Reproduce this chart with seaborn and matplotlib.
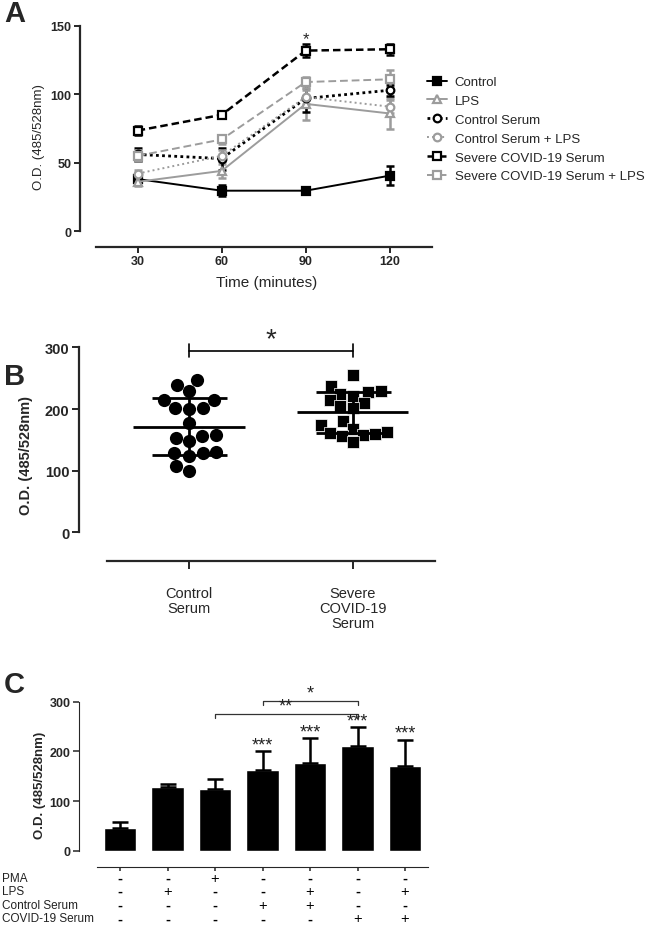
import numpy as np
import pandas as pd
import seaborn as sns
import matplotlib.pyplot as plt
from matplotlib.transforms import blended_transform_factory

# panel A: O.D. over time, mean and error per group
times = [30, 60, 90, 120]
groups_a = ["Control", "LPS", "Control Serum", "Control Serum + LPS",
            "Severe COVID-19 Serum", "Severe COVID-19 Serum + LPS"]
od_control = [38, 29.5, 29.5, 40.5]
od_lps = [36, 44, 93, 86]
od_ctrl_serum = [56, 53, 97, 103]
od_ctrl_serum_lps = [42, 55, 98, 91]
od_covid = [73.5, 85, 132, 133]
od_covid_lps = [55, 67, 109, 111]
err_control = [2, 4, 2, 7]
err_lps = [3, 5, 12, 11]
err_ctrl_serum = [5, 8, 10, 4]
err_ctrl_serum_lps = [3, 4, 5, 5]
err_covid = [3, 2, 5, 4]
err_covid_lps = [4, 3, 4, 7]

# panel B: individual O.D. values
control_serum_pts = [246.6, 239.5, 229, 215, 214, 202, 202, 199.4, 177.7, 158,
                     156, 153.9, 149, 131, 128.4, 128.4, 124.6, 107.3, 100.2]
covid_serum_pts = [255, 238, 230, 228, 225, 222, 215, 210, 205, 202,
                   180, 175, 168, 163, 162, 160, 158, 157, 147]
groups_b = ["Control\nSerum", "Severe\nCOVID-19\nSerum"]

# panel C: bars
conditions = ["None", "LPS", "PMA", "Control Serum", "Control Serum + LPS",
              "COVID-19 Serum", "COVID-19 Serum + LPS"]
bar_od = [45, 129, 124, 162, 177, 210, 171]
bar_err = [13, 6, 20, 38, 49, 39, 52]
bar_stars = ["", "", "", "***", "***", "***", "***"]
row_names = ["PMA", "LPS", "Control Serum", "COVID-19 Serum"]
row_pma = ["-", "-", "+", "-", "-", "-", "-"]
row_lps = ["-", "+", "-", "-", "+", "-", "+"]
row_ctrl = ["-", "-", "-", "+", "+", "-", "-"]
row_covid = ["-", "-", "-", "-", "-", "+", "+"]

sns.set_style("ticks")
plt.rcParams["font.family"] = ["Liberation Sans", "DejaVu Sans"]

fig = plt.figure(figsize=(6.45, 9.29), dpi=100)
W, H = 645, 929


def px_axes(left, top, right, bottom):
    return fig.add_axes([left / W, 1 - bottom / H, (right - left) / W, (bottom - top) / H])


grey = "#9c9c9c"
means_a = [od_control, od_lps, od_ctrl_serum, od_ctrl_serum_lps, od_covid, od_covid_lps]
errs_a = [err_control, err_lps, err_ctrl_serum, err_ctrl_serum_lps, err_covid, err_covid_lps]
look = [
    dict(color="black", marker="s", mfc="black", ls="-", lw=1.4),
    dict(color=grey, marker="^", mfc="white", ls="-", lw=1.4),
    dict(color="black", marker="o", mfc="white", ls=(0, (1, 1.2)), lw=2.0),
    dict(color=grey, marker="o", mfc="white", ls=(0, (1, 1.6)), lw=1.4),
    dict(color="black", marker="s", mfc="white", ls=(0, (3, 1.6)), lw=1.8),
    dict(color=grey, marker="s", mfc="white", ls=(0, (4, 2)), lw=1.4),
]

# ---------------- A
axA = px_axes(80, 27, 432, 248)
handles = []
for name, m, e, st in zip(groups_a, means_a, errs_a, look):
    axA.errorbar(times, m, yerr=e, fmt="none", ecolor=st["color"], elinewidth=1.8,
                 capsize=3, capthick=1.8, zorder=2)
    sns.lineplot(x=times, y=m, ax=axA, color=st["color"], marker=st["marker"],
                 markersize=5.5, markerfacecolor=st["mfc"], markeredgecolor=st["color"],
                 markeredgewidth=1.6, linestyle=st["ls"], linewidth=st["lw"], label=name,
                 zorder=3)
    handles.append(axA.lines[-1])
axA.text(90, 141, "*", ha="center", va="center", fontsize=12)
axA.set_xlim(9.4, 135.1)
axA.set_ylim(-11.7, 150)
axA.set_xticks(times)
axA.set_yticks([0, 50, 100, 150])
axA.spines["left"].set_bounds(0, 150)
axA.spines["bottom"].set_bounds(15, 135)
for s in ["left", "bottom"]:
    axA.spines[s].set_linewidth(1.6)
sns.despine(ax=axA)
axA.tick_params(length=4, width=1.4, labelsize=9, pad=2)
for lab in axA.get_xticklabels() + axA.get_yticklabels():
    lab.set_fontweight("bold")
axA.set_xlabel("Time (minutes)", fontsize=11)
axA.xaxis.set_label_coords(0.529, -0.125)
axA.set_ylabel("O.D. (485/528nm)", fontsize=9.5)
axA.yaxis.set_label_coords(-0.1, 0.5)
axA.legend(handles=handles, labels=groups_a, loc="upper left",
           bbox_to_anchor=(427 / W, 1 - 77 / H), bbox_transform=fig.transFigure,
           frameon=False, fontsize=9.5, handlelength=1.5, handletextpad=0.6,
           labelspacing=0.5, borderpad=0, borderaxespad=0)

# ---------------- B
axB = px_axes(79, 348.5, 435, 562.3)
dfB = pd.DataFrame({
    "group": [groups_b[0]] * len(control_serum_pts) + [groups_b[1]] * len(covid_serum_pts),
    "od": control_serum_pts + covid_serum_pts,
})
sns.swarmplot(data=dfB[dfB.group == groups_b[0]], x="group", y="od", order=groups_b,
              color="black", marker="o", size=9.5, linewidth=0, ax=axB)
sns.swarmplot(data=dfB[dfB.group == groups_b[1]], x="group", y="od", order=groups_b,
              color="black", marker="s", size=8, linewidth=0.5, edgecolor="white", ax=axB)
stats = dfB.groupby("group", sort=False)["od"].agg(["mean", "std"])
for i, g in enumerate(groups_b):
    mu, sd = stats.loc[g, "mean"], stats.loc[g, "std"]
    axB.hlines(mu, i - 0.34, i + 0.34, color="black", lw=2, zorder=4)
    axB.errorbar(i, mu, yerr=sd, fmt="none", ecolor="black", elinewidth=2,
                 capsize=27, capthick=2, zorder=4)
axB.plot([0, 1], [295, 295], color="black", lw=1.2, clip_on=False)
axB.plot([0, 0], [285, 305], color="black", lw=1.2, clip_on=False)
axB.plot([1, 1], [285, 305], color="black", lw=1.2, clip_on=False)
axB.text(0.5, 313, "*", ha="center", va="center", fontsize=20)
axB.set_xlim(-0.672, 1.503)
axB.set_ylim(-47, 300)
axB.set_yticks([0, 100, 200, 300])
axB.spines["left"].set_bounds(0, 300)
axB.spines["bottom"].set_bounds(-0.5, 1.5)
for s in ["left", "bottom"]:
    axB.spines[s].set_linewidth(1.6)
sns.despine(ax=axB)
axB.tick_params(axis="y", length=5, width=1.4, labelsize=10.5, pad=2)
axB.tick_params(axis="x", length=6, width=1.4, labelsize=10.5, pad=12)
for lab in axB.get_yticklabels():
    lab.set_fontweight("bold")
for lab in axB.get_xticklabels():
    lab.set_linespacing(1.1)
axB.set_xlabel("")
axB.set_ylabel("O.D. (485/528nm)", fontsize=10.5, fontweight="bold")
axB.yaxis.set_label_coords(-0.129, 0.5)

# ---------------- C
axC = px_axes(79, 702.7, 428.8, 868.3)
sns.barplot(x=conditions, y=bar_od, order=conditions, color="black", width=0.69,
            saturation=1, ax=axC)
axC.errorbar(range(len(conditions)), bar_od, yerr=[np.zeros(len(bar_err)), bar_err],
             fmt="none", ecolor="black", elinewidth=1.8, capsize=5.5, capthick=1.8, zorder=1)
for i, (v, e, s) in enumerate(zip(bar_od, bar_err, bar_stars)):
    if s:
        axC.text(i, v + e - 4, s, ha="center", va="bottom", fontsize=13, color="#222222")
for i0, i1, lab, h in [(3, 5, "*", 302), (2, 5, "**", 276)]:
    axC.plot([i0, i0, i1, i1], [h - 8, h, h, h - 8], color="#333333", lw=0.9, clip_on=False)
    axC.text((i0 + i1) / 2, h - 1, lab, ha="center", va="bottom", fontsize=13, color="#222222")
axC.set_xlim(-0.863, 6.5)
axC.set_ylim(-33.4, 300)
axC.set_yticks([0, 100, 200, 300])
axC.spines["left"].set_bounds(0, 300)
axC.spines["bottom"].set_bounds(-0.484, 6.484)
sns.despine(ax=axC)
axC.tick_params(axis="y", length=4, width=1.1, labelsize=9, pad=2)
axC.tick_params(axis="x", length=3, width=1.1, labelbottom=False)
for lab in axC.get_yticklabels():
    lab.set_fontweight("bold")
axC.set_ylabel("O.D. (485/528nm)", fontsize=9.5, fontweight="bold")
axC.yaxis.set_label_coords(-0.095, 0.5)

trans = blended_transform_factory(axC.transData, fig.transFigure)
row_y = [879, 891.7, 906, 919.3]
for name, row, y in zip(row_names, [row_pma, row_lps, row_ctrl, row_covid], row_y):
    fig.text(2 / W, 1 - y / H, name, ha="left", va="center", fontsize=8.5, color="#222222")
    for i, sign in enumerate(row):
        axC.text(i, 1 - y / H, sign, transform=trans, ha="center", va="center",
                 fontsize=10.5, color="black", fontweight="bold" if sign == "-" else "normal")

# panel letters
for letter, top in [("A", 0), ("B", 363), ("C", 671)]:
    fig.text(4 / W, 1 - top / H, letter, ha="left", va="top", fontsize=21, fontweight="bold")

fig.savefig("out.png", dpi=100)
